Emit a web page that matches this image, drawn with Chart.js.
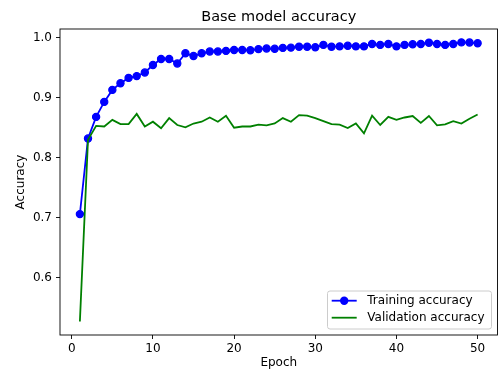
<!DOCTYPE html>
<html><head><meta charset="utf-8">
<script src="https://cdn.jsdelivr.net/npm/chart.js@4/dist/chart.umd.min.js"></script>
<style>html,body{margin:0;padding:0;background:#fff}</style>
</head><body>
<canvas id="c" width="503" height="371"></canvas>
<script>
const epochs = [1,2,3,4,5,6,7,8,9,10,11,12,13,14,15,16,17,18,19,20,21,22,23,24,25,26,27,28,29,30,31,32,33,34,35,36,37,38,39,40,41,42,43,44,45,46,47,48,49,50];
const trainingAcc = [0.706,0.832,0.868,0.893,0.913,0.924,0.933,0.936,0.942,0.9545,0.9645,0.9645,0.957,0.974,0.9695,0.974,0.977,0.977,0.978,0.9795,0.9795,0.979,0.981,0.982,0.9815,0.983,0.9835,0.985,0.985,0.984,0.988,0.985,0.9855,0.9865,0.9855,0.9855,0.9895,0.988,0.9895,0.9855,0.988,0.989,0.9895,0.9917,0.9895,0.988,0.9895,0.9922,0.992,0.9907];
const validationAcc = [0.527,0.830,0.853,0.852,0.863,0.856,0.856,0.873,0.852,0.860,0.849,0.866,0.8545,0.8507,0.857,0.860,0.867,0.860,0.870,0.850,0.852,0.852,0.855,0.854,0.857,0.866,0.860,0.871,0.870,0.866,0.861,0.856,0.855,0.8495,0.857,0.8405,0.870,0.8545,0.868,0.863,0.867,0.8695,0.858,0.8695,0.854,0.8557,0.861,0.857,0.865,0.872];
const xTicks = [0,10,20,30,40,50];
const yTicks = [0.6,0.7,0.8,0.9,1.0];
const titleText = 'Base model accuracy';
const xLabel = 'Epoch';
const yLabel = 'Accuracy';
const seriesNames = ['Training accuracy','Validation accuracy'];

const FONT = "'DejaVu Sans', sans-serif";
const toPts = (ys) => epochs.map((e,i)=>({x:e,y:ys[i]}));

const decor = {
  id:'decor',
  afterDatasetsDraw(chart){
    const {ctx, chartArea:a} = chart;
    ctx.save();
    ctx.strokeStyle = '#000'; ctx.lineWidth = 0.9;
    ctx.strokeRect(a.left, a.top, a.right-a.left, a.bottom-a.top);
    ctx.restore();
  },
  afterDraw(chart){
    const {ctx, chartArea:a} = chart;
    const cx = (a.left+a.right)/2, cy = (a.top+a.bottom)/2;
    ctx.save();
    ctx.fillStyle = '#000';
    ctx.textAlign = 'center'; ctx.textBaseline = 'middle';
    ctx.font = "14.5px " + FONT;
    ctx.fillText(titleText, cx, 17);
    ctx.font = "12px " + FONT;
    ctx.fillText(xLabel, cx, 363);
    ctx.translate(20.5, cy); ctx.rotate(-Math.PI/2);
    ctx.fillText(yLabel, 0, 0);
    ctx.restore();
    // legend
    ctx.save();
    const bx=327.5, by=291, bw=164, bh=38, r=2.5;
    ctx.beginPath();
    ctx.moveTo(bx+r,by); ctx.lineTo(bx+bw-r,by); ctx.arcTo(bx+bw,by,bx+bw,by+r,r);
    ctx.lineTo(bx+bw,by+bh-r); ctx.arcTo(bx+bw,by+bh,bx+bw-r,by+bh,r);
    ctx.lineTo(bx+r,by+bh); ctx.arcTo(bx,by+bh,bx,by+bh-r,r);
    ctx.lineTo(bx,by+r); ctx.arcTo(bx,by,bx+r,by,r); ctx.closePath();
    ctx.fillStyle='rgba(255,255,255,0.8)'; ctx.fill();
    ctx.strokeStyle='#cccccc'; ctx.lineWidth=1; ctx.stroke();
    const ds = chart.data.datasets;
    const rows=[300.7,317.7];
    rows.forEach((y,i)=>{
      ctx.strokeStyle = ds[i].borderColor; ctx.lineWidth = 1.8;
      ctx.beginPath(); ctx.moveTo(331.7,y); ctx.lineTo(356.7,y); ctx.stroke();
      if (ds[i].pointRadius>0){
        ctx.fillStyle = ds[i].borderColor;
        ctx.beginPath(); ctx.arc(344.2,y,4.2,0,Math.PI*2); ctx.fill();
      }
      ctx.fillStyle='#000'; ctx.font="12px "+FONT; ctx.textAlign='left'; ctx.textBaseline='middle';
      ctx.fillText(seriesNames[i], 367.3, y+0.5);
    });
    ctx.restore();
  }
};

new Chart(document.getElementById('c'), {
  type:'line',
  data:{datasets:[
    {label:seriesNames[0], data:toPts(trainingAcc), borderColor:'#0000ff', backgroundColor:'#0000ff',
     borderWidth:1.8, pointRadius:3.6, pointBorderWidth:1.2, pointBackgroundColor:'#0000ff', pointBorderColor:'#0000ff', tension:0, order:1},
    {label:seriesNames[1], data:toPts(validationAcc), borderColor:'#008000', backgroundColor:'#008000',
     borderWidth:1.8, pointRadius:0, tension:0, order:0}
  ]},
  options:{
    responsive:false, animation:false, devicePixelRatio:1,
    layout:{padding:{left:0,right:5.5,top:29,bottom:0}},
    plugins:{legend:{display:false}, title:{display:false}, tooltip:{enabled:false}},
    scales:{
      x:{type:'linear', min:-1.45, max:52.45,
        afterBuildTicks:(s)=>{s.ticks = xTicks.map(v=>({value:v}));},
        afterFit:(s)=>{s.height = 36;},
        grid:{display:true, drawOnChartArea:false, drawTicks:true, tickLength:4, color:'#000', lineWidth:0.9},
        border:{display:false},
        ticks:{padding:3, color:'#000', font:{family:FONT,size:12}, maxRotation:0, autoSkip:false, callback:(v)=>String(v)}
      },
      y:{type:'linear', min:0.5045, max:1.0145,
        afterBuildTicks:(s)=>{s.ticks = yTicks.map(v=>({value:v}));},
        afterFit:(s)=>{s.width = 60;},
        grid:{display:true, drawOnChartArea:false, drawTicks:true, tickLength:4, color:'#000', lineWidth:0.9},
        border:{display:false},
        ticks:{padding:4, color:'#000', font:{family:FONT,size:12}, autoSkip:false, callback:(v)=>Number(v).toFixed(1)}
      }
    }
  },
  plugins:[decor]
});
</script>
</body></html>
